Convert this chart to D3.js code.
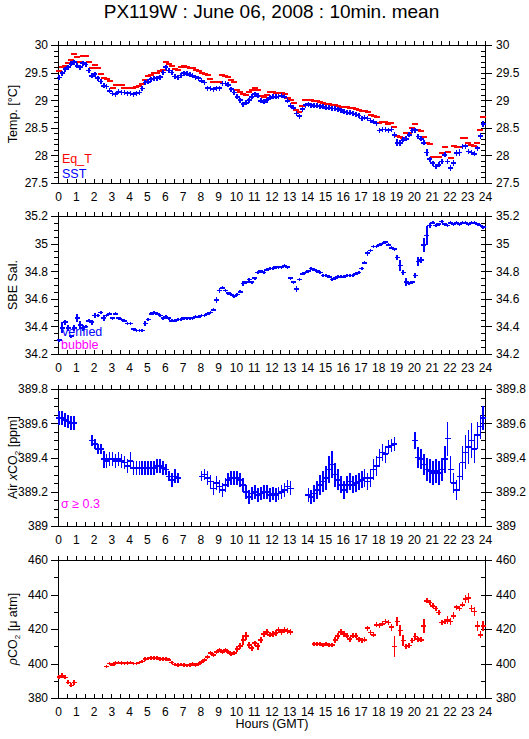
<!DOCTYPE html>
<html><head><meta charset="utf-8">
<script src="https://cdn.jsdelivr.net/npm/d3@7"></script>
<style>
html,body{margin:0;padding:0;background:#fff;}
svg{display:block;}
text{font-family:"Liberation Sans",Arial,Helvetica,sans-serif;}
</style></head>
<body>
<svg id="c" width="529" height="739"></svg>
<script>
// ---------- DATA (10-min means, hour = i/6 + offset) ----------
const hourTicks = d3.range(0, 25, 1);
const title = "PX119W : June 06, 2008 : 10min. mean";

const eqT = [29.52,29.6,29.62,29.68,29.72,29.84,
29.79,29.69,29.8,29.8,29.69,29.58,
29.64,29.58,29.47,29.4,29.38,29.34,
29.23,29.27,29.27,29.27,29.23,29.23,
29.23,29.22,29.24,29.25,29.3,29.36,
29.43,29.45,29.49,29.49,29.53,29.55,
29.7,29.66,29.62,29.57,29.55,29.6,
29.62,29.6,29.58,29.58,29.55,29.52,
29.49,29.47,29.45,29.38,29.33,29.33,
29.33,29.45,29.43,29.42,29.36,29.33,
29.18,29.15,29.11,29.09,29.15,29.18,
29.22,29.18,29.08,29.06,29.1,29.15,
29.15,29.13,29.13,29.13,29.11,29.04,
29.0,28.95,28.82,28.78,28.9,29.0,
29.0,29.0,28.98,28.98,28.96,28.95,
28.93,28.93,28.92,28.91,28.9,28.88,
28.88,28.87,28.86,28.85,28.84,28.83,
28.81,28.81,28.79,28.74,28.72,28.7,
28.58,28.6,28.6,28.56,28.58,28.52,
28.35,28.34,28.32,28.41,28.4,28.49,
28.56,28.46,28.44,28.34,28.22,28.2,
27.98,27.97,27.97,28.04,28.15,28.07,
27.95,28.17,28.15,28.15,28.31,28.32,
28.22,28.19,28.17,28.23,28.46,28.7];

const sst = [29.41,29.49,29.56,29.6,29.66,29.69,
29.62,29.6,29.67,29.65,29.54,29.44,
29.47,29.4,29.34,29.26,29.25,29.17,
29.12,29.11,29.15,29.14,29.14,29.13,
29.12,29.11,29.13,29.14,29.21,29.32,
29.33,29.38,29.39,29.4,29.42,29.5,
29.6,29.54,29.5,29.43,29.41,29.45,
29.49,29.48,29.46,29.44,29.42,29.4,
29.35,29.32,29.22,29.21,29.2,29.22,
29.22,29.3,29.3,29.28,29.2,29.14,
29.06,29.0,28.93,28.95,29.0,29.06,
29.11,29.08,28.99,28.97,29.0,29.04,
29.06,29.06,29.07,29.08,29.06,28.99,
28.9,28.86,28.76,28.71,28.84,28.91,
28.93,28.91,28.9,28.9,28.89,28.88,
28.86,28.86,28.85,28.85,28.84,28.82,
28.79,28.78,28.77,28.76,28.74,28.72,
28.67,28.69,28.67,28.63,28.61,28.58,
28.45,28.47,28.47,28.45,28.47,28.37,
28.23,28.22,28.28,28.3,28.37,28.45,
28.46,28.34,28.3,28.23,28.05,27.93,
27.86,27.8,27.83,27.89,28.01,27.89,
27.77,27.86,28.04,28.05,28.16,28.17,
28.07,28.05,28.03,28.13,28.35,28.57];

const sstErr = [0.02,0.02,0.02,0.02,0.02,0.02,
0.02,0.03,0.02,0.02,0.02,0.02,
0.02,0.02,0.02,0.02,0.02,0.02,
0.02,0.02,0.02,0.02,0.02,0.02,
0.02,0.02,0.02,0.02,0.02,0.02,
0.02,0.02,0.02,0.02,0.02,0.02,
0.02,0.02,0.02,0.02,0.02,0.02,
0.02,0.02,0.02,0.02,0.02,0.02,
0.02,0.02,0.02,0.02,0.02,0.02,
0.02,0.02,0.02,0.02,0.02,0.02,
0.02,0.02,0.02,0.02,0.02,0.02,
0.02,0.02,0.02,0.02,0.02,0.02,
0.02,0.02,0.02,0.02,0.02,0.02,
0.02,0.02,0.02,0.03,0.02,0.02,
0.02,0.02,0.02,0.02,0.02,0.02,
0.02,0.02,0.02,0.02,0.02,0.02,
0.02,0.02,0.02,0.02,0.02,0.02,
0.02,0.02,0.02,0.02,0.02,0.02,
0.03,0.02,0.02,0.03,0.02,0.06,
0.06,0.05,0.03,0.03,0.02,0.02,
0.02,0.03,0.04,0.02,0.06,0.02,
0.02,0.03,0.04,0.03,0.02,0.04,
0.05,0.06,0.05,0.06,0.03,0.04,
0.02,0.02,0.03,0.02,0.06,0.06];

const sal = [34.30,34.39,34.43,34.39,34.33,34.39,
34.46,34.41,34.39,34.40,34.44,34.43,
34.48,34.48,34.50,34.46,34.48,34.49,
34.46,34.49,34.46,34.45,34.44,34.42,
34.42,34.38,34.37,34.37,34.37,34.42,
34.45,34.49,34.50,34.49,34.48,34.46,
34.47,34.46,34.44,34.44,34.45,34.45,
34.46,34.46,34.46,34.46,34.47,34.47,
34.48,34.48,34.49,34.50,34.52,34.59,
34.66,34.68,34.66,34.64,34.63,34.62,
34.63,34.65,34.71,34.72,34.74,34.72,
34.75,34.79,34.80,34.79,34.81,34.82,
34.82,34.83,34.83,34.83,34.84,34.83,
34.75,34.72,34.67,34.74,34.78,34.79,
34.80,34.82,34.81,34.80,34.79,34.77,
34.77,34.76,34.74,34.75,34.76,34.76,
34.76,34.77,34.77,34.77,34.78,34.79,
34.82,34.86,34.93,34.95,34.98,34.98,
34.99,35.00,35.01,34.99,34.97,34.96,
34.90,34.84,34.79,34.72,34.71,34.72,
34.77,34.87,34.88,34.99,35.06,35.13,
35.15,35.13,35.14,35.16,35.14,35.13,
35.15,35.14,35.15,35.14,35.15,35.15,
35.14,35.15,35.15,35.14,35.13,35.12];

const salErr = [0.01,0.04,0.02,0.02,0.01,0.02,
0.03,0.03,0.02,0.01,0.01,0.02,
0.02,0.01,0.01,0.02,0.01,0.01,
0.01,0.01,0.01,0.01,0.01,0.01,
0.01,0.01,0.01,0.01,0.01,0.02,
0.01,0.01,0.01,0.01,0.01,0.01,
0.01,0.01,0.01,0.01,0.01,0.01,
0.01,0.01,0.01,0.01,0.01,0.01,
0.01,0.01,0.01,0.01,0.01,0.02,
0.02,0.01,0.01,0.01,0.01,0.01,
0.01,0.01,0.02,0.01,0.01,0.01,
0.01,0.01,0.01,0.01,0.01,0.01,
0.01,0.01,0.01,0.01,0.01,0.01,
0.01,0.01,0.02,0.01,0.01,0.01,
0.01,0.01,0.01,0.01,0.01,0.01,
0.01,0.01,0.01,0.01,0.01,0.01,
0.01,0.01,0.01,0.01,0.01,0.01,
0.01,0.01,0.02,0.01,0.01,0.01,
0.01,0.01,0.01,0.01,0.01,0.01,
0.02,0.04,0.02,0.03,0.01,0.01,
0.02,0.03,0.02,0.05,0.07,0.02,
0.01,0.01,0.01,0.01,0.01,0.01,
0.01,0.01,0.01,0.01,0.01,0.01,
0.01,0.01,0.01,0.01,0.01,0.01];

const xco2 = [389.63,389.63,389.62,389.61,389.60,389.60,
null,null,null,null,null,389.50,
389.48,389.45,389.45,389.39,389.38,389.39,
389.39,389.38,389.39,389.38,389.37,389.35,
389.38,389.34,389.34,389.34,389.34,389.34,
389.34,389.34,389.34,389.35,389.35,389.34,
389.33,389.29,389.27,389.29,389.28,null,
null,null,null,null,null,null,
389.29,389.30,389.28,389.26,389.22,389.25,
389.23,389.21,389.24,389.27,389.28,389.28,
389.28,389.27,389.24,389.20,389.17,389.19,
389.20,389.18,389.19,389.20,389.20,389.18,
389.19,389.18,389.19,389.20,389.21,389.23,
389.22,null,null,null,null,null,
389.18,389.17,389.19,389.21,389.24,389.26,
389.28,389.33,389.36,389.30,389.27,389.24,
389.21,389.24,389.26,389.24,389.25,389.26,
389.27,389.28,389.26,389.28,389.33,389.35,
389.40,389.43,389.42,389.46,389.47,389.48,
null,null,null,null,null,null,
389.50,389.40,389.39,389.36,389.33,389.32,
389.31,389.32,389.31,389.33,389.39,389.51,
389.33,389.25,389.21,389.29,389.37,389.43,
389.46,389.50,389.45,389.53,389.58,389.63];

const xco2Err = [0.04,0.04,0.04,0.04,0.04,0.04,
0,0,0,0,0,0.03,
0.03,0.03,0.03,0.05,0.04,0.04,
0.04,0.04,0.04,0.04,0.04,0.04,
0.05,0.04,0.04,0.04,0.04,0.04,
0.04,0.04,0.04,0.04,0.04,0.04,
0.03,0.03,0.04,0.04,0.03,0,
0,0,0,0,0,0,
0.03,0.03,0.04,0.04,0.04,0.04,
0.04,0.04,0.04,0.04,0.04,0.04,
0.04,0.04,0.04,0.04,0.04,0.04,
0.04,0.04,0.04,0.04,0.04,0.04,
0.04,0.04,0.04,0.04,0.04,0.04,
0.04,0,0,0,0,0,
0.04,0.04,0.05,0.05,0.06,0.06,
0.07,0.08,0.08,0.07,0.06,0.05,
0.05,0.05,0.05,0.05,0.05,0.05,
0.05,0.05,0.05,0.05,0.06,0.06,
0.05,0.05,0.05,0.04,0.04,0.04,
0,0,0,0,0,0,
0.05,0.06,0.06,0.06,0.07,0.07,
0.07,0.07,0.07,0.07,0.08,0.1,
0.08,0.06,0.06,0.08,0.1,0.1,
0.1,0.1,0.08,0.08,0.07,0.07];

const pco2 = [392.3,392.9,392.0,389.1,387.3,389.1,
null,null,null,null,null,null,
null,null,null,null,398.3,399.9,
399.3,400.2,400.6,400.2,399.9,400.2,
400.6,399.9,399.9,400.6,401.2,402.6,
403.0,403.1,403.3,403.1,402.6,402.6,
402.6,402.2,400.6,399.5,399.1,399.3,
399.1,398.8,399.1,399.6,399.1,399.6,
400.9,402.0,403.8,406.1,405.0,406.7,
407.8,406.7,407.8,406.7,405.5,406.1,
408.4,410.1,413.6,415.9,410.7,408.9,
411.8,410.1,413.6,417.1,418.3,416.6,
417.1,417.7,419.4,418.3,419.4,418.8,
418.3,null,null,null,null,null,
null,null,411.3,411.3,411.3,410.7,
411.3,410.7,410.7,413.6,415.9,418.3,
417.1,416.0,414.1,416.0,416.0,414.1,
413.3,413.7,420.5,418.0,416.6,422.4,
422.0,423.0,424.3,423.8,421.0,409.9,
424.3,419.1,413.3,409.9,410.5,413.3,
415.7,414.1,413.7,421.8,436.3,435.3,
433.4,432.0,429.5,423.8,424.3,425.3,
424.3,427.6,432.6,432.0,434.0,437.3,
437.8,432.0,430.1,421.8,416.6,421.8];

const pco2Err = [1.2,1.5,1.2,1.2,1.2,1.5,
0,0,0,0,0,0,
0,0,0,0,1,1,
1,1,1,1,1,1,
1,1,1,1,1,1,
1,1,1,1,1,1,
1,1,1,1,1,1,
1,1,1,1,1,1,
1,1,1,1,1,1,
1,1,1,1,1,1,
1.5,1.5,3,2.5,1.5,1.5,
1.5,2,2,2,1.5,1.5,
1.5,1.5,1.5,1.5,1.5,1.5,
1.5,0,0,0,0,0,
0,0,1,1,1,1,
1,1,1,1.5,1.5,1.5,
1.5,1.5,1.5,1.5,1.5,1.5,
1.5,1.5,1.5,1.5,1.5,1.5,
1.5,1.5,1.5,1.5,2,6,
2.5,3,3,1.5,1.5,1.5,
2,1.5,1.5,4,1.5,1.5,
1.5,1.5,1.5,1.5,1.5,2.5,
2,2,1.5,1.5,1.5,2.5,
3,2,2.5,3,2,3];

// ---------- LAYOUT ----------
const svg = d3.select("#c");
const X0 = 58, X1 = 485;
const x = d3.scaleLinear().domain([0, 24]).range([X0, X1]);
const hourOf = i => i / 6 + 0.07;
const FONT = "Liberation Sans, Arial, sans-serif";

const panels = [
  {top: 45, bottom: 183, dom: [27.5, 30], major: 0.5, minor: 0.1,
   label: [{t: "Temp. [°C]"}]},
  {top: 216, bottom: 354, dom: [34.2, 35.2], major: 0.2, minor: 0.05,
   label: [{t: "SBE Sal."}]},
  {top: 389, bottom: 526, dom: [389, 389.8], major: 0.2, minor: 0.05,
   label: [{t: "Air "}, {t: "x", it: true}, {t: "CO"}, {t: "2", sub: true}, {t: " [ppm]", after: true}]},
  {top: 560, bottom: 698, dom: [380, 460], major: 20, minor: 10,
   label: [{t: "ρ", it: true}, {t: "CO"}, {t: "2", sub: true}, {t: " [μ atm]", after: true}]}
];

svg.append("text").attr("x", (X0 + X1) / 2).attr("y", 18).attr("text-anchor", "middle")
  .attr("font-size", 19).text(title);

function ticksFor(dom, step) {
  const n = Math.round((dom[1] - dom[0]) / step);
  return d3.range(0, n + 1).map(k => +(dom[0] + k * step).toFixed(4));
}

panels.forEach((p) => {
  const y = d3.scaleLinear().domain(p.dom).range([p.bottom, p.top]);
  p.y = y;
  const g = svg.append("g");
  const halfTicks = d3.range(0, 24.01, 0.5);
  g.append("g").attr("transform", `translate(0,${p.top})`)
    .call(d3.axisTop(x).tickValues(halfTicks).tickSize(4).tickFormat(""))
    .call(a => a.select(".domain").remove());
  g.append("g").attr("transform", `translate(0,${p.bottom})`)
    .call(d3.axisBottom(x).tickValues(halfTicks).tickSize(-4).tickFormat(""))
    .call(a => a.select(".domain").remove());
  g.append("g").attr("transform", `translate(0,${p.bottom})`)
    .call(d3.axisBottom(x).tickValues(hourTicks).tickSize(0).tickPadding(9).tickFormat(d3.format("d")))
    .call(a => a.select(".domain").remove())
    .call(a => a.selectAll("text").attr("font-size", 12).attr("font-family", FONT).attr("fill", "#000"));
  const majors = ticksFor(p.dom, p.major);
  const minors = ticksFor(p.dom, p.minor);
  g.append("g").attr("transform", `translate(${X0},0)`)
    .call(d3.axisLeft(y).tickValues(minors).tickSize(4).tickFormat(""))
    .call(a => a.select(".domain").remove());
  g.append("g").attr("transform", `translate(${X0},0)`)
    .call(d3.axisLeft(y).tickValues(majors).tickSize(7).tickPadding(3).tickFormat(d3.format("~g")))
    .call(a => a.select(".domain").remove())
    .call(a => a.selectAll("text").attr("font-size", 12).attr("font-family", FONT).attr("fill", "#000"));
  g.append("g").attr("transform", `translate(${X1},0)`)
    .call(d3.axisRight(y).tickValues(minors).tickSize(-4).tickFormat(""))
    .call(a => a.select(".domain").remove());
  g.append("g").attr("transform", `translate(${X1},0)`)
    .call(d3.axisRight(y).tickValues(majors).tickSize(7).tickPadding(4).tickFormat(d3.format("~g")))
    .call(a => a.select(".domain").remove())
    .call(a => a.selectAll("text").attr("font-size", 12).attr("font-family", FONT).attr("fill", "#000"));
  g.selectAll("line").attr("stroke", "#000").attr("shape-rendering", "crispEdges");
  g.append("rect").attr("x", X0 + 0.5).attr("y", p.top + 0.5)
    .attr("width", X1 - X0).attr("height", p.bottom - p.top)
    .attr("fill", "none").attr("stroke", "#000").attr("stroke-width", 1).attr("shape-rendering", "crispEdges");
  const cy = (p.top + p.bottom) / 2;
  const lt = svg.append("text").attr("transform", `translate(17,${cy}) rotate(-90)`)
    .attr("text-anchor", "middle").attr("font-size", 12.5);
  p.label.forEach(s => {
    const ts = lt.append("tspan").text(s.t);
    if (s.it) ts.attr("font-style", "italic");
    if (s.sub) ts.attr("font-size", 8).attr("dy", 3);
    if (s.after) ts.attr("dy", -3);
  });
});

// ---------- MARKS ----------
const layer = svg.append("g").attr("shape-rendering", "crispEdges");

function dashes(vals, p, color, half) {
  const data = vals.map((v, i) => ({h: hourOf(i), v})).filter(d => d.v != null);
  layer.append("g").selectAll("line").data(data).join("line")
    .attr("x1", d => x(d.h) - half).attr("x2", d => x(d.h) + half)
    .attr("y1", d => p.y(d.v)).attr("y2", d => p.y(d.v))
    .attr("stroke", color).attr("stroke-width", 2);
}
function crosses(vals, errs, p, color, half, minHalfPx, vw) {
  const data = vals.map((v, i) => ({h: hourOf(i), v, e: errs[i]})).filter(d => d.v != null);
  const gg = layer.append("g");
  gg.selectAll("line.h").data(data).join("line").attr("class", "h")
    .attr("x1", d => x(d.h) - half).attr("x2", d => x(d.h) + half)
    .attr("y1", d => p.y(d.v)).attr("y2", d => p.y(d.v))
    .attr("stroke", color).attr("stroke-width", 1.6);
  gg.selectAll("line.v").data(data).join("line").attr("class", "v")
    .attr("x1", d => x(d.h)).attr("x2", d => x(d.h))
    .attr("y1", d => Math.max(p.y(d.v - d.e), p.y(d.v) + minHalfPx))
    .attr("y2", d => Math.min(p.y(d.v + d.e), p.y(d.v) - minHalfPx))
    .attr("stroke", color).attr("stroke-width", vw);
}

const P = panels;
dashes(eqT, P[0], "#ff0000", 3);
crosses(sst, sstErr, P[0], "#0000ff", 2.5, 2.5, 1.6);
crosses(sal, salErr, P[1], "#0000ff", 2.5, 1.5, 1.6);
crosses(xco2, xco2Err, P[2], "#0000ff", 3, 2, 1.6);
crosses(pco2, pco2Err, P[3], "#ff0000", 2.5, 1.5, 1.6);

// ---------- LEGEND TEXTS ----------
const leg = [
  {t: "Eq_T", x: 62, y: 163, c: "#ff0000"},
  {t: "SST", x: 62, y: 178, c: "#0000ff"},
  {t: "verified", x: 62, y: 336, c: "#0000ff"},
  {t: "bubble", x: 61, y: 349, c: "#ff00ff"},
  {t: "σ ≥ 0.3", x: 61, y: 508, c: "#ff00ff"}
];
svg.append("g").selectAll("text").data(leg).join("text")
  .attr("x", d => d.x).attr("y", d => d.y).attr("fill", d => d.c)
  .attr("font-size", 12.5).attr("font-family", FONT).text(d => d.t);

svg.append("text").attr("x", 272).attr("y", 728).attr("text-anchor", "middle")
  .attr("font-size", 12.5).text("Hours (GMT)");
</script>
</body></html>
